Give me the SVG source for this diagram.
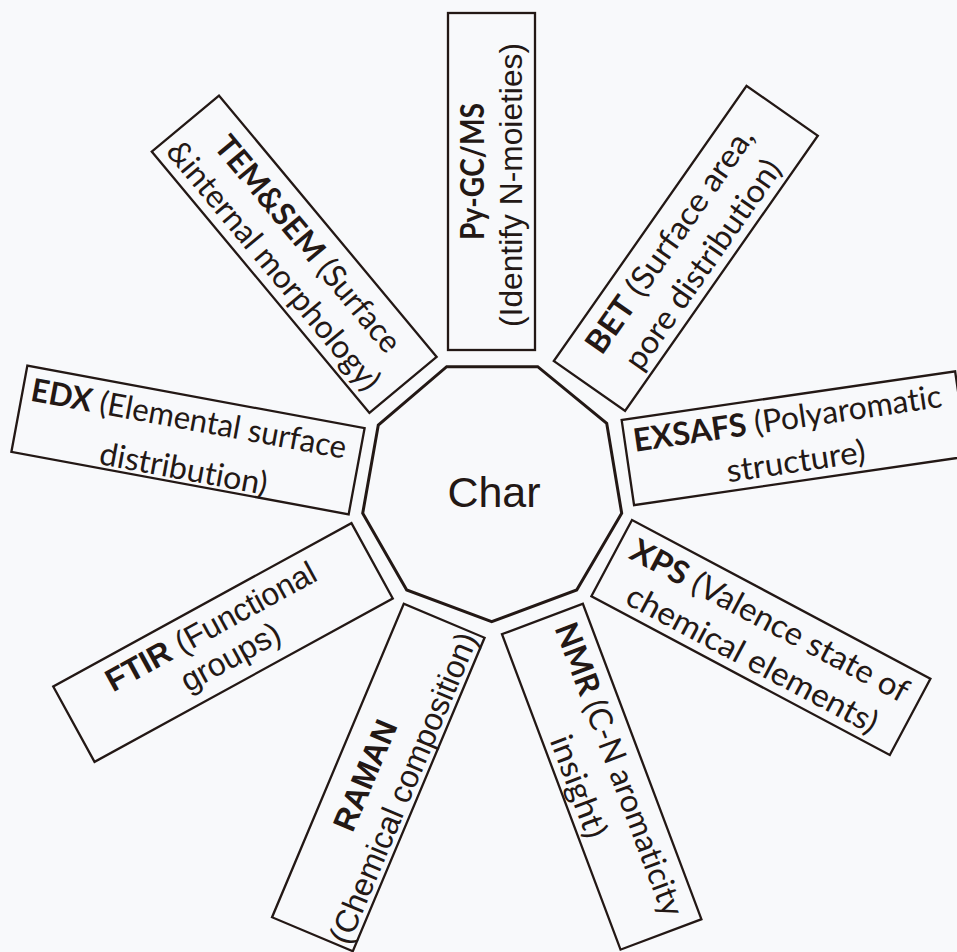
<svg xmlns="http://www.w3.org/2000/svg" width="957" height="952" viewBox="0 0 957 952">
<style>
.bg{fill:#f8f9fb}
.box{fill:none;stroke:#231815;stroke-width:2.3;stroke-linejoin:miter}
.hub{fill:none;stroke:#231815;stroke-width:3;stroke-linejoin:miter}
.t{font-family:Lato,"Open Sans",sans-serif;font-size:32px;fill:#231815;text-anchor:middle;font-variant-ligatures:none;font-feature-settings:"liga" 0,"clig" 0,"dlig" 0}
.a{font-family:"Liberation Sans",Arial,sans-serif;font-size:32px;fill:#231815;text-anchor:middle;font-variant-ligatures:none}
.b{font-weight:bold}
.c{font-family:"Liberation Sans",Arial,sans-serif;font-size:43px;fill:#231815;text-anchor:middle}
</style>
<rect class="bg" x="0" y="0" width="957" height="952"/>

<g id="node-char">
<polygon class="hub" points="446.7,366.7 537.7,366.7 606.7,423.3 621.7,513.3 576.7,590 491.7,621.7 406.7,590 362.7,513.3 378.3,425"/>
<text class="c" x="494" y="506.5">Char</text>
</g>

<g id="node-pygcms" transform="translate(491.5,181.5) rotate(-90)">
<rect class="box" x="-168.5" y="-43.5" width="337" height="87"/>
<text class="t b" x="10" y="-8" textLength="137" lengthAdjust="spacingAndGlyphs">Py-GC/MS</text>
<text class="a" x="-3.5" y="30" textLength="284" lengthAdjust="spacingAndGlyphs">(Identify N-moieties)</text>
</g>

<g id="node-bet" transform="translate(685.8,248.4) rotate(-55)">
<rect class="box" x="-168" y="-43.5" width="336" height="87"/>
<text class="t" x="-2.5" y="-7" textLength="268" lengthAdjust="spacingAndGlyphs"><tspan class="b">BET</tspan> (Surface area,</text>
<text class="t" x="-3.4" y="34" textLength="248" lengthAdjust="spacingAndGlyphs">pore distribution)</text>
</g>

<g id="node-exsafs" transform="translate(794.6,438.2) rotate(-8.3)">
<rect class="box" x="-168.5" y="-43" width="337" height="86"/>
<text class="t" x="-4.2" y="-9.7" textLength="311.5" lengthAdjust="spacingAndGlyphs"><tspan class="b">EXSAFS</tspan> (Polyaromatic</text>
<text class="t" x="-2" y="34" textLength="140" lengthAdjust="spacingAndGlyphs">structure)</text>
</g>

<g id="node-xps" transform="translate(760.9,637.5) rotate(28)">
<rect class="box" x="-169" y="-43.25" width="338" height="86.5"/>
<text class="t" x="0" y="-8" textLength="310" lengthAdjust="spacingAndGlyphs"><tspan class="b">XPS</tspan> (Valence state of</text>
<text class="t" x="2.5" y="34" textLength="280" lengthAdjust="spacingAndGlyphs">chemical elements)</text>
</g>

<g id="node-nmr" transform="translate(601.7,776.7) rotate(69.4)">
<rect class="box" x="-168.5" y="-43.2" width="337" height="86.4"/>
<text class="t" x="-0.7" y="-8" textLength="311" lengthAdjust="spacingAndGlyphs"><tspan class="b">NMR</tspan> (C-N aromaticity</text>
<text class="t" x="1" y="36" textLength="107" lengthAdjust="spacingAndGlyphs">insight)</text>
</g>

<g id="node-raman" transform="translate(378.3,777.5) rotate(-67.2)">
<rect class="box" x="-170" y="-43.8" width="340" height="87.6"/>
<text class="a b" x="-3" y="-2" textLength="117" lengthAdjust="spacingAndGlyphs">RAMAN</text>
<text class="a" x="0" y="38" textLength="334" lengthAdjust="spacingAndGlyphs">(Chemical composition)</text>
</g>

<g id="node-ftir" transform="translate(223,642.5) rotate(-28.7)">
<rect class="box" x="-170" y="-43" width="340" height="86"/>
<text class="a" x="-3" y="-9" textLength="235" lengthAdjust="spacingAndGlyphs"><tspan class="b">FTIR</tspan> (Functional</text>
<text class="a" x="-0.3" y="27" textLength="109" lengthAdjust="spacingAndGlyphs">groups)</text>
</g>

<g id="node-edx" transform="translate(188,440) rotate(10.5)">
<rect class="box" x="-171.5" y="-43.8" width="343" height="87.6"/>
<text class="t" x="-3" y="-10" textLength="320" lengthAdjust="spacingAndGlyphs"><tspan class="b">EDX</tspan> (Elemental surface</text>
<text class="t" x="1" y="40" textLength="170" lengthAdjust="spacingAndGlyphs">distribution)</text>
</g>

<g id="node-temsem" transform="translate(294.2,254.2) rotate(50.2)">
<rect class="box" x="-170" y="-43.75" width="340" height="87.5"/>
<text class="t" x="1" y="-6" textLength="271" lengthAdjust="spacingAndGlyphs"><tspan class="b">TEM&amp;SEM</tspan> (Surface</text>
<text class="t" x="-4.5" y="34" textLength="314" lengthAdjust="spacingAndGlyphs">&amp;internal morphology)</text>
</g>

<g id="connectors"/>
</svg>
